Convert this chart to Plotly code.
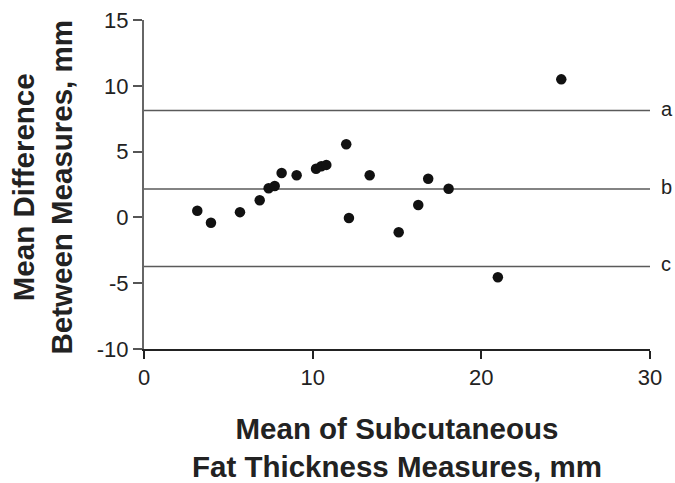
import plotly.graph_objects as go

# Data
mean_thickness = [3.16, 3.97, 5.69, 6.86, 7.39, 7.75, 8.16, 9.05, 10.2, 10.51,
                  10.81, 11.99, 12.15, 13.38, 15.1, 16.26, 16.85, 18.06, 20.98, 24.74]
mean_difference = [0.50, -0.41, 0.40, 1.30, 2.21, 2.39, 3.38, 3.20, 3.70, 3.89,
                   3.99, 5.56, -0.05, 3.20, -1.13, 0.94, 2.94, 2.18, -4.55, 10.49]

limit_labels = ["a", "b", "c"]
limit_values = [8.12, 2.16, -3.73]
x_range = [0, 30]

x_ticks = [0, 10, 20, 30]
x_tick_labels = ["0", "10", "20", "30"]
y_ticks = [-10, -5, 0, 5, 10, 15]
y_tick_labels = ["-10", "-5", "0", "5", "10", "15"]

x_title = "<b>Mean of Subcutaneous<br>Fat Thickness Measures, mm</b>"
y_title = "<b>Mean Difference<br>Between Measures, mm</b>"

FONT = "Arial, 'Liberation Sans', Helvetica, sans-serif"

fig = go.Figure()

for lab, val in zip(limit_labels, limit_values):
    fig.add_trace(go.Scatter(
        x=x_range, y=[val, val], mode="lines",
        line=dict(color="#5a5a5a", width=1.5),
        hoverinfo="skip", showlegend=False, cliponaxis=False,
    ))
    fig.add_annotation(
        x=x_range[1], y=val, xref="x", yref="y", text=lab,
        showarrow=False, xanchor="left", yanchor="middle", xshift=9, yshift=2,
        font=dict(family=FONT, size=20, color="#222"),
    )

fig.add_trace(go.Scatter(
    x=mean_thickness, y=mean_difference, mode="markers",
    marker=dict(color="#111", size=10.5),
    showlegend=False, cliponaxis=False,
))

fig.add_annotation(
    x=0.5, y=0, xref="paper", yref="paper", text=x_title, showarrow=False,
    xanchor="center", yanchor="middle", yshift=-98,
    font=dict(family=FONT, size=29.5, color="#222"),
)
fig.add_annotation(
    x=0, y=0.5, xref="paper", yref="paper", text=y_title, showarrow=False,
    textangle=-90, xanchor="center", yanchor="middle", xshift=-102, yshift=-3,
    font=dict(family=FONT, size=29.5, color="#222"),
)

fig.update_layout(
    width=675, height=483,
    margin=dict(l=144, r=25, t=20, b=134, autoexpand=False),
    paper_bgcolor="white", plot_bgcolor="white",
    font=dict(family=FONT, color="#222"),
    xaxis=dict(
        range=x_range, tickvals=x_ticks, ticktext=x_tick_labels,
        ticks="outside", ticklen=8,
        tickwidth=1.5, tickcolor="#222", automargin=False,
        showline=True, linecolor="#222", linewidth=1.5,
        showgrid=False, zeroline=False, ticklabeloverflow="allow",
        tickfont=dict(family=FONT, size=22, color="#222"),
    ),
    yaxis=dict(
        range=[-10, 15], tickvals=y_ticks, ticktext=y_tick_labels,
        ticks="outside", ticklen=9,
        tickwidth=1.5, tickcolor="#555", automargin=False,
        showline=True, linecolor="#666", linewidth=2,
        showgrid=False, zeroline=False, ticklabeloverflow="allow",
        tickfont=dict(family=FONT, size=22, color="#222"),
    ),
)

# Remove the page's default 8px body margin so the figure fills the window.
fig.write_html(
    "out.html",
    config={"displayModeBar": False},
    post_script="document.body.style.margin='0';document.body.style.overflow='hidden';",
)
